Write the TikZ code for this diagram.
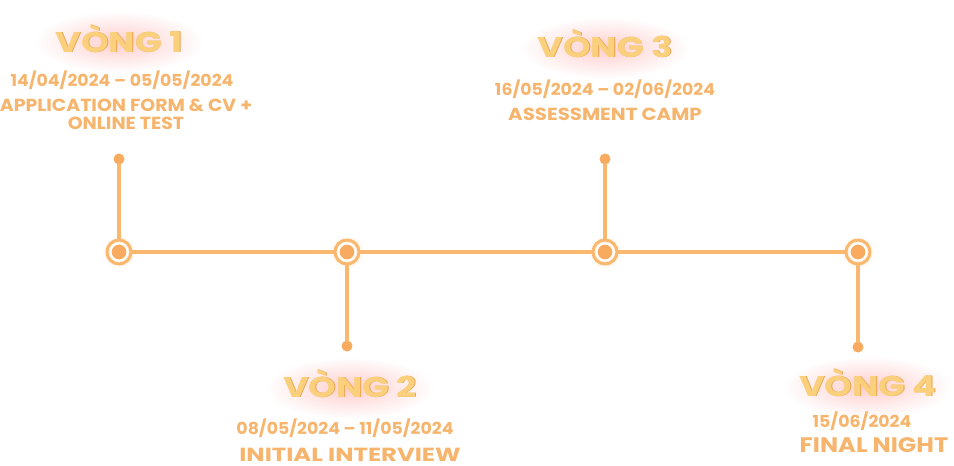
\documentclass[tikz,border=0pt]{standalone}
\usepackage{fontspec}
\setmainfont{Poppins}[BoldFont={Poppins Bold}]
\usetikzlibrary{calc}
\definecolor{lineor}{RGB}{250,184,110}
\definecolor{dotor}{RGB}{248,170,95}
\definecolor{txtor}{RGB}{246,180,108}
\definecolor{gold}{RGB}{250,208,125}
\definecolor{goldedge}{RGB}{236,165,80}
\definecolor{glow}{RGB}{255,205,205}
\newcommand{\stretchfont}[2]{\bfseries\fontsize{#1}{#1}\selectfont\addfontfeature{FakeStretch=#2}}
\tikzset{
  tl/.style={line width=3.8pt, draw=lineor, line cap=round},
  bigdot/.style={circle, minimum size=17pt, inner sep=0pt, fill=dotor, draw=white, line width=2pt},
  ring/.style={circle, draw=lineor, line width=3pt, minimum size=24pt, inner sep=0pt},
  smalldot/.style={circle, fill=dotor, minimum size=11pt, inner sep=0pt},
  title/.style={font=\stretchfont{28.5}{1.23}, text=gold, inner sep=0pt, anchor=base},
  titleedge/.style={font=\stretchfont{28.5}{1.23}, text=goldedge, inner sep=0pt, anchor=base},
  date/.style={font=\stretchfont{16.5}{1.05}, text=txtor, inner sep=0pt, anchor=base},
  lab/.style={font=\stretchfont{17.5}{1.08}, text=txtor, inner sep=0pt, anchor=base},
  labcamp/.style={font=\stretchfont{17.5}{1.13}, text=txtor, inner sep=0pt, anchor=base},
  labint/.style={font=\stretchfont{19}{1.28}, text=txtor, inner sep=0pt, anchor=base, text depth=0pt},
  labfin/.style={font=\stretchfont{21}{1.15}, text=txtor, inner sep=0pt, anchor=base},
}
\newcommand{\glowat}[1]{\shade[inner color=glow, outer color=white] #1 ellipse [x radius=85pt, y radius=31pt];}
\newcommand{\mytitle}[3]{%
  \node[titleedge] at ($#1+(0.9,0.9)$) {#3};
  \node[title] (#2) at #1 {#3};}
\begin{document}
\begin{tikzpicture}[x=1pt,y=-1pt]
\useasboundingbox (0,0) rectangle (954,466);
% glows
\glowat{(119,42)}
\glowat{(605,48)}
\glowat{(350,388)}
\glowat{(868,387)}
% timeline nodes
\foreach \x in {119,347,605,858}{
  \shade[inner color=lineor!50, outer color=white] (\x,252) circle (17pt);
}
\node[ring] (c1) at (119,252) {};
\node[ring] (c2) at (347,252) {};
\node[ring] (c3) at (605,252) {};
\node[ring] (c4) at (858,252) {};
\node[bigdot] at (c1) {};
\node[bigdot] at (c2) {};
\node[bigdot] at (c3) {};
\node[bigdot] at (c4) {};
\node[smalldot] (d1) at (119,159) {};
\node[smalldot] (d2) at (347,346) {};
\node[smalldot] (d3) at (605,159) {};
\node[smalldot] (d4) at (858,347) {};
\draw[tl] (c1) -- (c2);
\draw[tl] (c2) -- (c3);
\draw[tl] (c3) -- (c4);
\draw[tl] (d1) -- (c1);
\draw[tl] (c2) -- (d2);
\draw[tl] (d3) -- (c3);
\draw[tl] (c4) -- (d4);
% titles
\mytitle{(119,52)}{t1}{VÒNG 1}
\mytitle{(605,57)}{t3}{VÒNG 3}
\mytitle{(350,397)}{t2}{VÒNG 2}
\mytitle{(868,396)}{t4}{VÒNG 4}
% dates
\node[date] (dt1) at (122,86) {14/04/2024 – 05/05/2024};
\node[date] (dt3) at (605,95) {16/05/2024 – 02/06/2024};
\node[date] (dt2) at (345,434) {08/05/2024 – 11/05/2024};
\node[date] (dt4) at (862,427) {15/06/2024};
% labels
\node[lab] (l1) at (126,111) {APPLICATION FORM \& CV +};
\node[lab] (l1b) at (126,129) {ONLINE TEST};
\node[labcamp] (l3) at (605,120) {ASSESSMENT CAMP};
\node[labint] (l2) at (350,461) {INITIAL INTERVIEW};
\node[labfin] (l4) at (874,452) {FINAL NIGHT};
\end{tikzpicture}
\end{document}
